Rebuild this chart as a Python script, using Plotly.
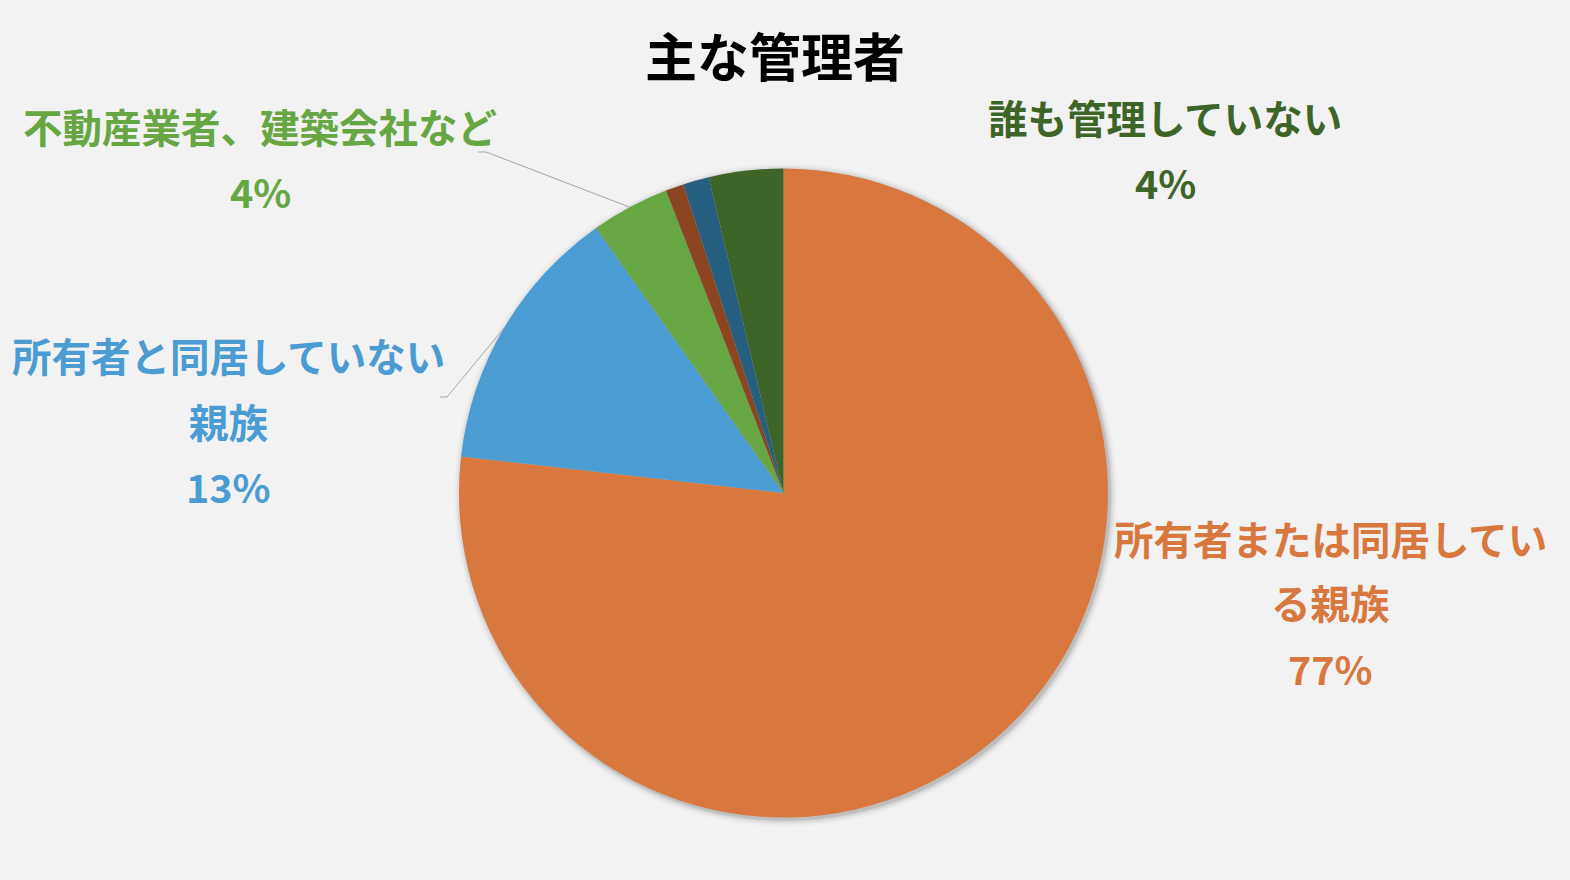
import math
import plotly.graph_objects as go

# --- data -------------------------------------------------------------
categories = [
    "所有者または同居している親族",
    "所有者と同居していない親族",
    "不動産業者、建築会社など",
    "その他",
    "不明",
    "誰も管理していない",
]
shares = [76.8, 13.4, 3.9, 0.9, 1.3, 3.7]
colors = ["#D8783F", "#4A9CD2", "#66A643", "#8C4520", "#265F80", "#3E6428"]

title_text = "主な管理者"

# --- layout constants (pixels) -----------------------------------------
W, H = 1570, 880
CX, CY, R = 783.5, 493.0, 324.5
FONT = "Noto Sans CJK JP"
BG = "#F2F2F2"
LABEL_SIZE = 39.5
TITLE_SIZE = 52
DY = -3  # baseline nudge for all text


def px(x):
    return x / W


def py(y):
    return 1 - y / H


def domain(cx, cy, r):
    return dict(x=[px(cx - r), px(cx + r)], y=[py(cy + r), py(cy - r)])


def edge_point(idx, radius):
    """Point on the rim at the middle of slice idx (clockwise from 12 o'clock)."""
    total = sum(shares)
    start = sum(shares[:idx]) / total * 360
    mid = math.radians(start + shares[idx] / total * 360 / 2)
    return CX + radius * math.sin(mid), CY - radius * math.cos(mid)


fig = go.Figure()

# soft drop shadow under the pie
for k, (grow, alpha) in enumerate([(7, 0.02), (5, 0.03), (3.5, 0.04), (2, 0.06), (1, 0.08)]):
    fig.add_trace(go.Pie(
        values=[1], labels=[f"s{k}"], sort=False,
        marker=dict(colors=[f"rgba(0,0,0,{alpha})"], line=dict(width=0)),
        textinfo="none", hoverinfo="skip", showlegend=False,
        domain=domain(CX + 2, CY + 2, R + grow),
    ))

fig.add_trace(go.Pie(
    labels=categories, values=shares, sort=False, direction="clockwise",
    rotation=0,
    marker=dict(colors=colors, line=dict(width=0)),
    textinfo="none", hoverinfo="label+percent", showlegend=False,
    domain=domain(CX, CY, R),
))

pct = [round(v / sum(shares) * 100) for v in shares]

annotations = [
    dict(x=px(775), y=py(57 + DY), text=f"<b>{title_text}</b>",
         font=dict(size=TITLE_SIZE, color="#000000", family=FONT)),
]

label_lines = [
    (0, 1330, [540, 604], ["所有者または同居してい", "る親族"], 670),
    (1, 228, [358, 423], ["所有者と同居していない", "親族"], 488),
    (2, 260, [128], ["不動産業者、建築会社など"], 193),
    (5, 1165, [120], ["誰も管理していない"], 185),
]
for idx, x, ys, lines, y_pct in label_lines:
    for y, t in zip(ys, lines):
        annotations.append(dict(x=px(x), y=py(y + DY), text=f"<b>{t}</b>",
                                font=dict(size=LABEL_SIZE, color=colors[idx], family=FONT)))
    annotations.append(dict(x=px(x), y=py(y_pct + DY), text=f"<b>{pct[idx]}%</b>",
                            font=dict(size=LABEL_SIZE, color=colors[idx], family=FONT)))

for a in annotations:
    a.update(xref="paper", yref="paper", xanchor="center", yanchor="middle",
             showarrow=False)

# leader lines from labels to their slices
shapes = []
leaders = [(2, [(478, 152), (486, 152)]), (1, [(440, 397), (447, 397)])]
for idx, pts in leaders:
    ex, ey = edge_point(idx, R)
    path_pts = pts + [(ex, ey)]
    d = "M " + " L ".join(f"{px(a)},{py(b)}" for a, b in path_pts)
    shapes.append(dict(type="path", xref="paper", yref="paper", path=d,
                       line=dict(color="#A6A6A6", width=1)))

fig.update_layout(
    width=W, height=H,
    margin=dict(l=0, r=0, t=0, b=0),
    paper_bgcolor=BG, plot_bgcolor=BG,
    annotations=annotations, shapes=shapes,
    font=dict(family=FONT),
)

fig.write_html("out.html")
